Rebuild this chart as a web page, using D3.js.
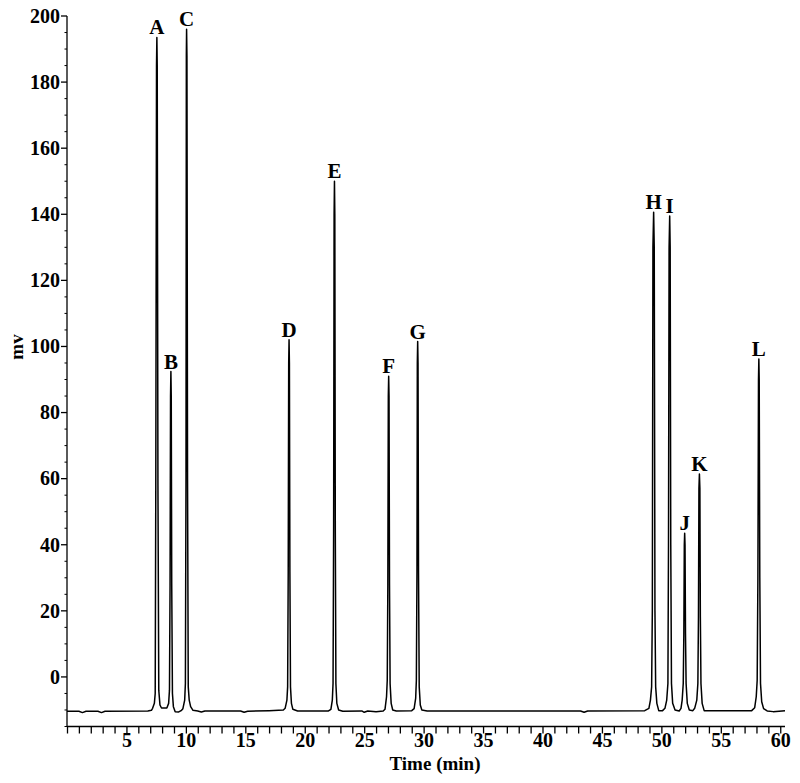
<!DOCTYPE html>
<html>
<head>
<meta charset="utf-8">
<script src="https://cdn.jsdelivr.net/npm/d3@7"></script>
<style>
  html, body { margin: 0; padding: 0; background: #fff; }
  svg { display: block; }
  text { font-family: "Liberation Serif", "Times New Roman", serif; font-weight: bold; fill: #000; }
</style>
</head>
<body>
<svg id="chart" width="800" height="783"></svg>
<script>
// ---- Data ----
const peakLabels  = ["A", "B", "C", "D", "E", "F", "G", "H", "I", "J", "K", "L"];
const peakTimes   = [7.56, 8.74, 10.06, 18.68, 22.5, 27.06, 29.5, 49.35, 50.7, 51.96, 53.2, 58.2];
const peakHeights = [193.5, 92.4, 196, 102, 150, 91, 101.5, 140.6, 139.5, 43.5, 61.4, 96.2];

const xTickValues = [5, 10, 15, 20, 25, 30, 35, 40, 45, 50, 55, 60];
const yTickValues = [0, 20, 40, 60, 80, 100, 120, 140, 160, 180, 200];

// detector trace (time in min, signal in mV)
const traceTime = [
  0, 1.0, 1.3, 1.6, 2.6, 2.9, 3.2, 6.8, 7.1,
  7.2, 7.35, 7.42, 7.47, 7.53, 7.56, 7.59, 7.65, 7.72, 7.82, 7.95, 8.2,
  8.4, 8.55, 8.62, 8.67, 8.71, 8.74, 8.77, 8.81, 8.87, 8.95, 9.1, 9.4, 9.6,
  9.75, 9.9, 9.96, 10.01, 10.04, 10.06, 10.09, 10.14, 10.2, 10.28, 10.4, 10.6, 11.0, 11.3, 11.6, 14.6, 14.9, 15.2, 17.0, 18.2,
  18.35, 18.5, 18.56, 18.61, 18.65, 18.68, 18.71, 18.75, 18.8, 18.88, 19.0, 19.4, 22.0,
  22.2, 22.32, 22.38, 22.43, 22.47, 22.5, 22.53, 22.57, 22.62, 22.7, 22.85, 23.2, 24.8, 25.0, 25.3, 26.0, 26.6,
  26.75, 26.88, 26.94, 26.99, 27.03, 27.06, 27.09, 27.13, 27.18, 27.27, 27.4, 27.7, 29.0,
  29.2, 29.33, 29.39, 29.44, 29.47, 29.5, 29.53, 29.57, 29.63, 29.72, 29.85, 30.3, 43.2, 43.5, 43.8, 48.6, 48.95,
  49.08, 49.18, 49.24, 49.29, 49.35, 49.4, 49.46, 49.52, 49.62, 49.78, 50.1, 50.3,
  50.45, 50.55, 50.6, 50.65, 50.7, 50.74, 50.79, 50.85, 50.95, 51.15, 51.5, 51.65,
  51.75, 51.84, 51.89, 51.93, 51.96, 51.99, 52.03, 52.08, 52.18, 52.35, 52.65, 52.8,
  52.98, 53.07, 53.12, 53.16, 53.2, 53.24, 53.28, 53.33, 53.43, 53.6, 57.6, 57.85,
  57.98, 58.06, 58.12, 58.17, 58.2, 58.23, 58.28, 58.34, 58.44, 58.6, 58.9, 59.4, 60.4
];
const traceMv = [
  -10.4, -10.4, -10.8, -10.4, -10.4, -10.8, -10.4, -10.3, -10.1,
  -9.5, -8, -5, 58, 185, 193.5, 185, 58, -4, -8.5, -9.4, -9.4,
  -9.4, -8, -4, 28, 85, 92.4, 85, 28, -5, -9, -10.5, -10.6, -10.2,
  -9.6, -7, -2, 60, 188, 196, 188, 60, -3, -7, -9, -10.1, -10.3, -10.6, -10.3, -10.3, -10.7, -10.4, -10.2, -10.0,
  -9.5, -7, -3, 32, 95, 102, 95, 32, -3, -8, -9.8, -10.3, -10.3,
  -9.8, -7, -2, 45, 140, 150, 140, 45, -2, -8, -10, -10.4, -10.3, -10.7, -10.3, -10.5, -10.3,
  -9.8, -6, -1, 28, 85, 91, 85, 28, -2, -8, -10, -10.3, -10.2,
  -9.6, -6.5, -1, 32, 95, 101.5, 95, 32, -3, -8.5, -10, -10.3, -10.3, -10.7, -10.3, -10.2, -9.5,
  -7, -3, 20, 130, 140.6, 130, 20, -3, -8, -10.2, -10.2, -9.5,
  -7, -2, 40, 130, 139.5, 130, 40, -2, -8, -10, -10.3, -9.5,
  -7, -2, 13, 40, 43.5, 40, 13, -2, -8, -10, -10.2, -9.5,
  -7, -2, 18, 57, 61.4, 57, 18, -2, -8, -10.2, -10.2, -9.3,
  -6, -1, 30, 90, 96.2, 90, 30, -2, -7.5, -9.6, -10.3, -10.5, -10.2
];

// ---- Chart ----
const svg = d3.select("#chart");
const x = d3.scaleLinear().domain([0, 60.4]).range([67, 785]);
const y = d3.scaleLinear().domain([-15, 200]).range([726.5, 16]);

const trace = traceTime.map((t, i) => [t, traceMv[i]]);

svg.append("path")
  .datum(trace)
  .attr("fill", "none")
  .attr("stroke", "#000")
  .attr("stroke-width", 1.5)
  .attr("stroke-linejoin", "round")
  .attr("d", d3.line().x(d => x(d[0])).y(d => y(d[1])));

// x axis: minor ticks every minute
const xMinor = d3.range(0, 61, 1);
const xAxisG = svg.append("g").attr("transform", `translate(0,${y(-15)})`);
xAxisG.call(d3.axisBottom(x).tickValues(xMinor).tickSize(7).tickFormat(""));
xAxisG.selectAll("text").remove();
xAxisG.selectAll(".tick").filter(d => xTickValues.includes(d))
  .append("text")
  .attr("y", 20)
  .attr("text-anchor", "middle")
  .attr("font-size", 20)
  .text(d => d);
xAxisG.selectAll("path, line").attr("stroke", "#000").attr("stroke-width", 1.3);
xAxisG.select(".domain").attr("d", `M${x(0)},0H${x(60.4)}`);

// y axis
const yAxisG = svg.append("g").attr("transform", `translate(${x(0)},0)`);
yAxisG.append("line")
  .attr("x1", 0).attr("x2", 0)
  .attr("y1", y(-15)).attr("y2", y(200))
  .attr("stroke", "#000").attr("stroke-width", 1.3);
const yMinor = d3.range(-15, 201, 5).filter(v => !yTickValues.includes(v));
yAxisG.selectAll(".ymin").data(yMinor).enter().append("line")
  .attr("x1", -2.5).attr("x2", 0)
  .attr("y1", d => y(d)).attr("y2", d => y(d))
  .attr("stroke", "#000").attr("stroke-width", 1);
yAxisG.selectAll(".ymaj").data(yTickValues).enter().append("line")
  .attr("x1", -6).attr("x2", 0)
  .attr("y1", d => y(d)).attr("y2", d => y(d))
  .attr("stroke", "#000").attr("stroke-width", 1.3);
yAxisG.selectAll(".ylab").data(yTickValues).enter().append("text")
  .attr("x", -7)
  .attr("y", d => y(d))
  .attr("dy", "0.34em")
  .attr("text-anchor", "end")
  .attr("font-size", 20)
  .text(d => d);

// axis titles
svg.append("text")
  .attr("x", 435).attr("y", 770)
  .attr("text-anchor", "middle")
  .attr("font-size", 19)
  .text("Time (min)");
svg.append("text")
  .attr("transform", "translate(23,347) rotate(-90)")
  .attr("text-anchor", "middle")
  .attr("font-size", 19)
  .text("mv");

// peak labels
svg.selectAll(".plab").data(peakLabels).enter().append("text")
  .attr("x", (d, i) => x(peakTimes[i]))
  .attr("y", (d, i) => y(peakHeights[i]) - 3)
  .attr("text-anchor", "middle")
  .attr("font-size", 21)
  .text(d => d);
</script>
</body>
</html>
